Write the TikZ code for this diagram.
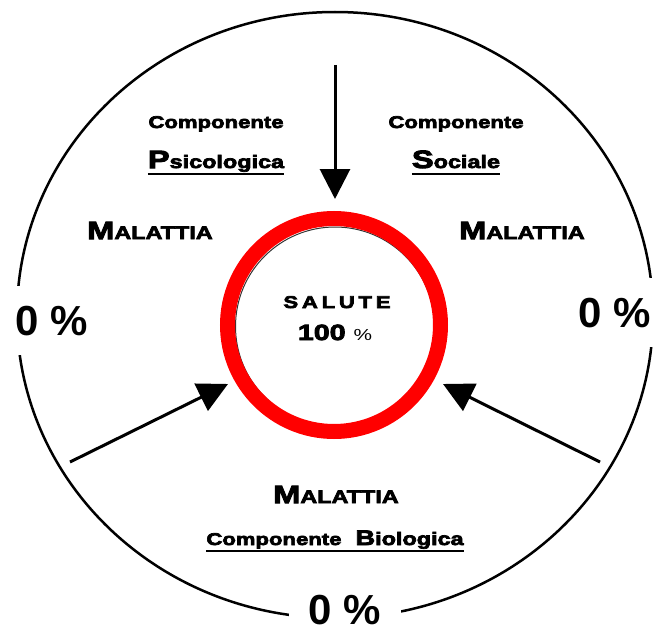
\documentclass[tikz,border=0pt]{standalone}
\usepackage{fontspec}
\setmainfont{Liberation Sans}
\newfontfamily\heavy{Liberation Sans}[FakeStretch=1.3, BoldFeatures={FakeBold=4}]
\usetikzlibrary{arrows.meta}

\newcommand{\fs}[1]{\fontsize{#1}{#1}\selectfont}
\newcommand{\sott}[1]{\setbox0=\hbox{#1}\leavevmode\rlap{\rule[-7pt]{\wd0}{2pt}}\box0}
\newcommand{\malattia}{{\fs{25}M}\fs{18}ALATTIA}

\begin{document}
\begin{tikzpicture}[x=1pt, y=-1pt,
  txt/.style={anchor=base, inner sep=0pt, font=\heavy\bfseries\fs{17}},
  perc/.style={anchor=base, fill=white, inner sep=20pt, font=\bfseries\fs{42}},
  freccia/.style={line width=3pt, -{Triangle[width=30pt,length=30pt]}}]
\useasboundingbox (0,0) rectangle (657,626);
\draw[line width=2.5pt] (335,315) ellipse [x radius=318pt, y radius=303pt];
% anello rosso con ombra interna
\draw[black!80, line width=1pt] (335,326.5) circle [radius=99.5pt];
\node[circle, draw=red, line width=15pt, minimum size=213pt, inner sep=0pt] (salute) at (334,325) {};
\node[anchor=base, inner sep=0pt, font=\heavy\bfseries\fs{17}\addfontfeature{LetterSpace=22}] (sal) at (337,308) {SALUTE};
\node[anchor=base, inner sep=0pt, font=\heavy\bfseries\fs{22}] (cento) at (335,340) {100 {\mdseries\fs{16}\%}};
% testi
\node[txt] (compP) at (216,128) {Componente};
\node[txt] (psico) at (216,168) {\sott{{\fs{25}P}\fs{18}sicologica}};
\node[txt] (compS) at (456,128) {Componente};
\node[txt] (soc) at (456,168) {\sott{{\fs{25}S}\fs{18}ociale}};
\node[txt] (malS) at (150,239) {\malattia};
\node[txt] (malD) at (522,239) {\malattia};
\node[txt] (malB) at (336,503) {\malattia};
\node[txt] (bio) at (335,545) {\sott{Componente\hspace{14pt}{\fs{21}B}\fs{18}iologica}};
\node[perc] (zeroS) at (52,335) {0 \%};
\node[perc] (zeroD) at (615,327) {0 \%};
\node[perc] (zeroB) at (345,624) {0 \%};
% frecce
\coordinate (aN) at (335,65);
\coordinate (tN) at (335,199);
\coordinate (aS) at (70,462);
\coordinate (tS) at (228,384);
\coordinate (aD) at (600,462);
\coordinate (tD) at (443,384);
\draw[freccia] (aN) -- (tN);
\draw[freccia] (aS) -- (tS);
\draw[freccia] (aD) -- (tD);
\end{tikzpicture}
\end{document}
